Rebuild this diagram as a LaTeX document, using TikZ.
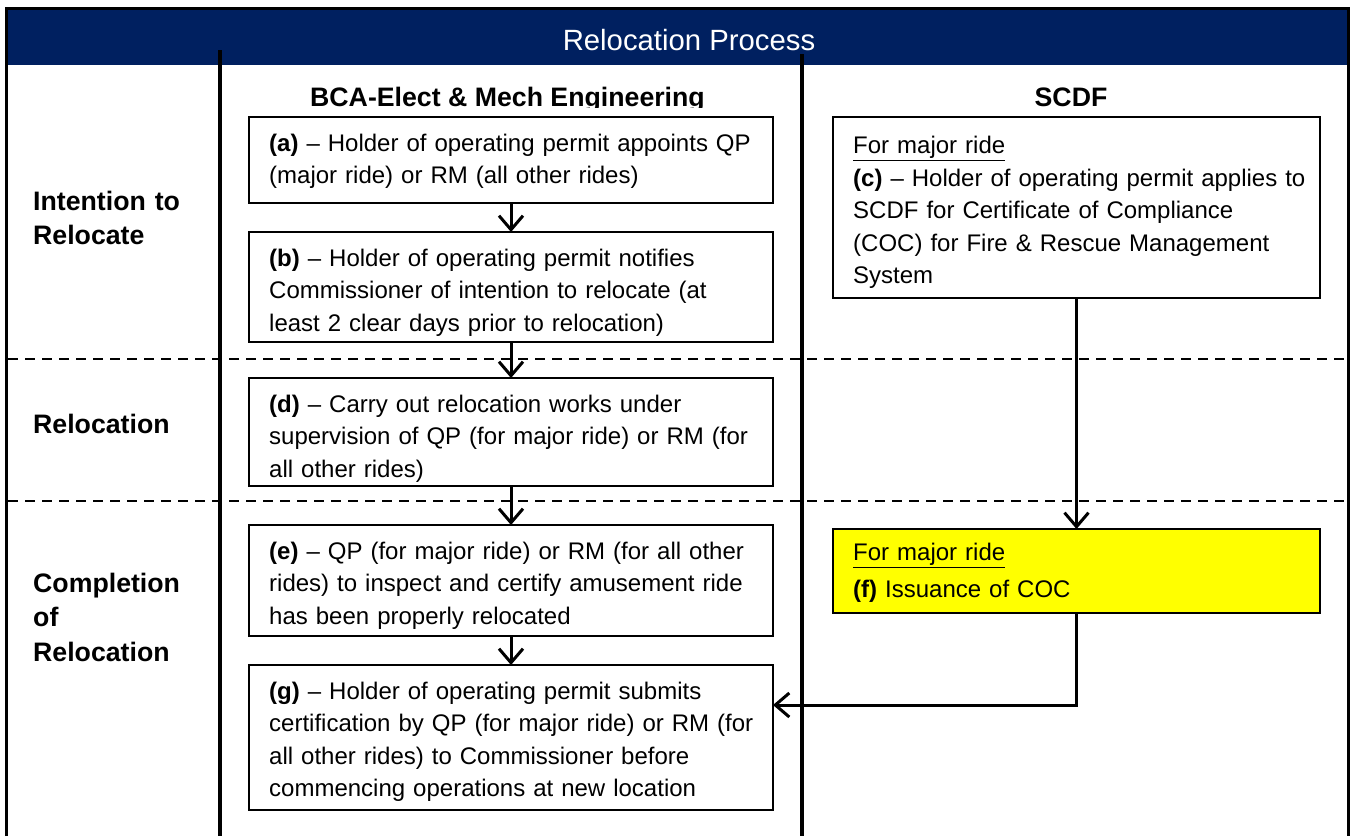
\documentclass[tikz,border=0pt]{standalone}
\usepackage{fontspec}
\setmainfont{Liberation Sans}
\usetikzlibrary{arrows.meta}
\definecolor{navy}{RGB}{0,32,96}
\definecolor{hlyellow}{RGB}{255,255,0}
\begin{document}
\begin{tikzpicture}[x=1pt,y=-1pt,
  procbox/.style={draw=black, line width=1.5pt, fill=white, anchor=north west, inner sep=0pt, outer sep=0pt},
  lbox/.style={procbox, minimum width=524pt},
  rbox/.style={procbox, minimum width=487pt},
  btxt/.style={anchor=north west, inner sep=0pt, text width=520pt, align=left, font=\fontsize{24}{32.5}\selectfont},
  lbl/.style={anchor=north west, inner sep=0pt, text width=180pt, align=left, font=\bfseries\fontsize{26.7}{34.5}\selectfont},
  colhead/.style={anchor=base, inner sep=0pt, font=\bfseries\fontsize{26.7}{32}\selectfont},
  divider/.style={line width=3.5pt, black},
  sep/.style={line width=2pt, black, dash pattern=on 10pt off 7pt},
  flow/.style={line width=3pt, -{Straight Barb[length=14pt,width=24pt]}}
]
\useasboundingbox (0,0) rectangle (1355,836);
% header
\fill[navy] (8,10) rectangle (1347,65);
\node[anchor=base, inner sep=0pt, text=white, font=\fontsize{29.3}{35}\selectfont] (title) at (689,50) {Relocation Process};
% separators
\draw[sep] (8,359) -- (1347,359);
\draw[sep] (8,501) -- (1347,501);
% frame and dividers
\draw[line width=3pt] (6.5,836) -- (6.5,8.5) -- (1348.5,8.5) -- (1348.5,836);
\draw[divider] (220,50) -- (220,836);
\draw[divider] (802,54) -- (802,836);
% column heads
\begin{scope}
  \clip (222,66) rectangle (800,107.5);
  \node[colhead] (hbca) at (507.5,106.5) {BCA-Elect \& Mech Engineering};
\end{scope}
\node[colhead] (hscdf) at (1071,106.5) {SCDF};
% row labels
\node[lbl] (l1) at (33,185.85) {\strut Intention to\\Relocate};
\node[lbl] (l2) at (33,408.85) {\strut Relocation};
\node[lbl] (l3) at (33,567.85) {\strut Completion\\of\\Relocation};
% left column boxes
\node[lbox, minimum height=86pt] (a) at (249,117) {};
\node[btxt] (ta) at ([shift={(20,11.5)}]a.north west) {\strut\textbf{(a)} – Holder of operating permit appoints QP\\(major ride) or RM (all other rides)};
\node[lbox, minimum height=110pt] (b) at (249,232) {};
\node[btxt] (tb) at ([shift={(20,11.5)}]b.north west) {\strut\textbf{(b)} – Holder of operating permit notifies\\Commissioner of intention to relocate (at\\least 2 clear days prior to relocation)};
\node[lbox, minimum height=108pt] (d) at (249,378) {};
\node[btxt] (td) at ([shift={(20,11.5)}]d.north west) {\strut\textbf{(d)} – Carry out relocation works under\\supervision of QP (for major ride) or RM (for\\all other rides)};
\node[lbox, minimum height=111pt] (e) at (249,525) {};
\node[btxt] (te) at ([shift={(20,11.5)}]e.north west) {\strut\textbf{(e)} – QP (for major ride) or RM (for all other\\rides) to inspect and certify amusement ride\\has been properly relocated};
\node[lbox, minimum height=145pt] (g) at (249,665) {};
\node[btxt] (tg) at ([shift={(20,11.5)}]g.north west) {\strut\textbf{(g)} – Holder of operating permit submits\\certification by QP (for major ride) or RM (for\\all other rides) to Commissioner before\\commencing operations at new location};
% right column boxes
\node[rbox, minimum height=181pt] (c) at (833,117) {};
\node[btxt] (tc) at ([shift={(20,14)}]c.north west) {\strut\underline{For major ride}\\\textbf{(c)} – Holder of operating permit applies to\\SCDF for Certificate of Compliance\\(COC) for Fire \& Rescue Management\\System};
\node[rbox, fill=hlyellow, minimum height=84pt] (f) at (833,529) {};
\node[btxt] (tf) at ([shift={(20,8.5)}]f.north west) {\strut\underline{For major ride}\\[5pt]\textbf{(f)} Issuance of COC};
% connectors
\draw[flow] (a.south) -- (b.north);
\draw[flow] (b.south) -- (d.north);
\draw[flow] (d.south) -- (e.north);
\draw[flow] (e.south) -- (g.north);
\draw[flow] (c.south) -- (f.north);
\draw[flow] (f.south) |- ([yshift=32.5pt]g.east);
\end{tikzpicture}
\end{document}
